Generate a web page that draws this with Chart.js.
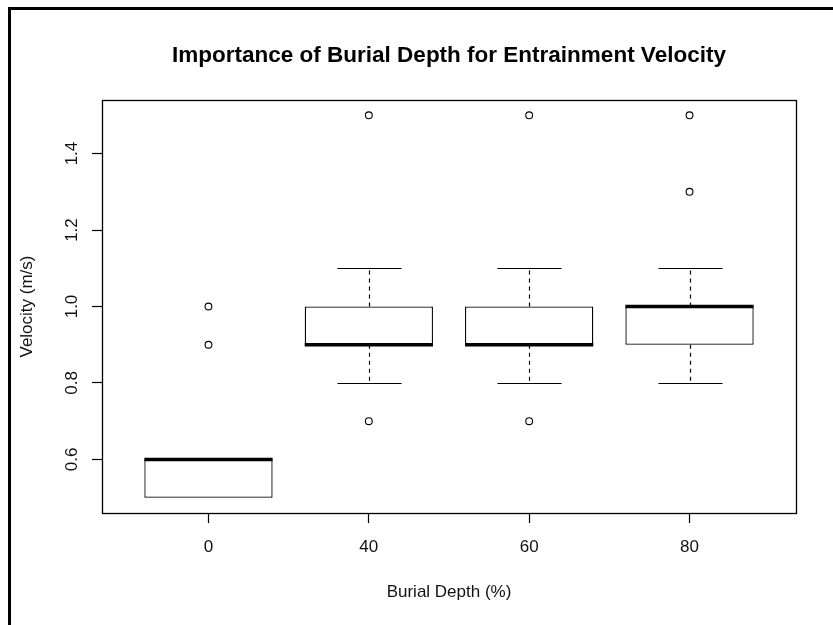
<!DOCTYPE html>
<html>
<head>
<meta charset="utf-8">
<title>Importance of Burial Depth for Entrainment Velocity</title>
<script src="https://cdn.jsdelivr.net/npm/chart.js@4.4.1/dist/chart.umd.min.js"></script>
<style>
  html, body { margin: 0; padding: 0; background: #fff; }
  #wrap { position: relative; width: 833px; height: 625px; overflow: hidden; }
  #frame { position: absolute; left: 8px; top: 7px; right: 0; bottom: 0; border-left: 3px solid #000; border-top: 3px solid #000; pointer-events: none; }
  canvas { position: absolute; left: 0; top: 0; }
</style>
</head>
<body>
<div id="wrap">
  <canvas id="chart" width="833" height="625"></canvas>
  <div id="frame"></div>
</div>
<script>
// === DADOS ===
const categories = ['0', '40', '60', '80'];
const xPos = [1, 2, 3, 4];
const q1 = [0.5, 0.9, 0.9, 0.9];
const q3 = [0.6, 1.0, 1.0, 1.0];
const medians = [0.6, 0.9, 0.9, 1.0];
const whiskerLow = [0.5, 0.8, 0.8, 0.8];
const whiskerHigh = [0.6, 1.1, 1.1, 1.1];
const outliers = [[0.9, 1.0], [0.7, 1.5], [0.7, 1.5], [1.3, 1.5]];
const yTicks = [0.6, 0.8, 1.0, 1.2, 1.4];

const FONT = '"Liberation Sans", Arial, sans-serif';

// whiskers (under the boxes), medians and the plot box
const boxExtras = {
    id: 'boxExtras',
    beforeDatasetsDraw(chart) {
        const ctx = chart.ctx, y = chart.scales.y;
        const bars = chart.getDatasetMeta(0).data;
        ctx.save();
        ctx.strokeStyle = '#000';
        ctx.lineWidth = 1.2;
        bars.forEach((bar, i) => {
            const cx = Math.round(bar.x) + 0.5, half = bar.width / 4;
            // pares [fim da caixa, fim do bigode]; bigode de comprimento zero não é desenhado
            [[q3[i], whiskerHigh[i]], [q1[i], whiskerLow[i]]].forEach(([b, w]) => {
                if (b === w) return;
                ctx.setLineDash([4, 4]);
                ctx.beginPath();
                ctx.moveTo(cx, y.getPixelForValue(b)); ctx.lineTo(cx, y.getPixelForValue(w));
                ctx.stroke();
                ctx.setLineDash([]);
                const py = Math.round(y.getPixelForValue(w)) + 0.5;
                ctx.beginPath();
                ctx.moveTo(cx - half, py); ctx.lineTo(cx + half, py);
                ctx.stroke();
            });
        });
        ctx.restore();
    },
    afterDatasetsDraw(chart) {
        const ctx = chart.ctx, y = chart.scales.y;
        const bars = chart.getDatasetMeta(0).data;
        ctx.save();
        ctx.strokeStyle = '#000';
        ctx.lineWidth = 3.5;
        ctx.lineCap = 'butt';
        bars.forEach((bar, i) => {
            const py = y.getPixelForValue(medians[i]);
            ctx.beginPath();
            ctx.moveTo(bar.x - bar.width / 2, py); ctx.lineTo(bar.x + bar.width / 2, py);
            ctx.stroke();
        });
        const a = chart.chartArea;
        ctx.lineWidth = 1.3;
        ctx.strokeRect(Math.round(a.left) + 0.5, Math.round(a.top) + 0.5, Math.round(a.right - a.left), Math.round(a.bottom - a.top));
        ctx.restore();
    }
};

const outlierPoints = [];
outliers.forEach((vals, i) => vals.forEach(v => outlierPoints.push({ x: xPos[i], y: v })));

new Chart(document.getElementById('chart'), {
    type: 'bar',
    data: {
        datasets: [
            {
                type: 'bar',
                data: xPos.map((x, i) => ({ x, y: [q1[i], q3[i]] })),
                backgroundColor: '#fff',
                borderColor: '#000',
                borderWidth: 1.3,
                borderSkipped: false,
                barPercentage: 0.8,
                categoryPercentage: 1
            },
            {
                type: 'scatter',
                data: outlierPoints,
                pointStyle: 'circle',
                pointRadius: 3.4,
                pointBackgroundColor: '#fff',
                pointBorderColor: '#000',
                pointBorderWidth: 1.1
            }
        ]
    },
    options: {
        responsive: false,
        animation: false,
        layout: { padding: { left: 0, top: 0, right: 37, bottom: 0 } },
        plugins: {
            legend: { display: false },
            tooltip: { enabled: false },
            title: {
                display: true,
                fullSize: false,
                text: 'Importance of Burial Depth for Entrainment Velocity',
                color: '#000',
                font: { family: FONT, size: 22.5, weight: 'bold' },
                padding: { top: 42, bottom: 31 }
            }
        },
        scales: {
            x: {
                type: 'linear',
                offset: false,
                min: 0.336,
                max: 4.664,
                afterBuildTicks: axis => { axis.ticks = xPos.map(v => ({ value: v })); },
                afterFit: axis => { axis.height = 112; },
                border: { display: false },
                grid: { offset: false, drawOnChartArea: false, drawTicks: true, tickLength: 10, color: '#000', tickColor: '#000', tickWidth: 1.2 },
                ticks: {
                    color: '#111',
                    font: { family: FONT, size: 17 },
                    padding: 14,
                    maxRotation: 0,
                    callback: (v) => categories[xPos.indexOf(v)]
                },
                title: {
                    display: true,
                    text: 'Burial Depth (%)',
                    color: '#111',
                    font: { family: FONT, size: 17 },
                    padding: { top: 0, bottom: 22 }
                }
            },
            y: {
                min: 0.46,
                max: 1.54,
                afterBuildTicks: axis => { axis.ticks = yTicks.map(v => ({ value: v })); },
                afterFit: axis => { axis.width = 102; },
                border: { display: false },
                grid: { drawOnChartArea: false, drawTicks: true, tickLength: 10, color: '#000', tickColor: '#000', tickWidth: 1.2 },
                ticks: {
                    color: '#111',
                    font: { family: FONT, size: 17 },
                    padding: 8,
                    minRotation: 90,
                    maxRotation: 90,
                    crossAlign: 'center',
                    callback: v => v.toFixed(1)
                },
                title: {
                    display: true,
                    text: 'Velocity (m/s)',
                    color: '#111',
                    font: { family: FONT, size: 17 },
                    padding: { top: 17, bottom: 0 }
                }
            }
        }
    },
    plugins: [boxExtras]
});
</script>
</body>
</html>
